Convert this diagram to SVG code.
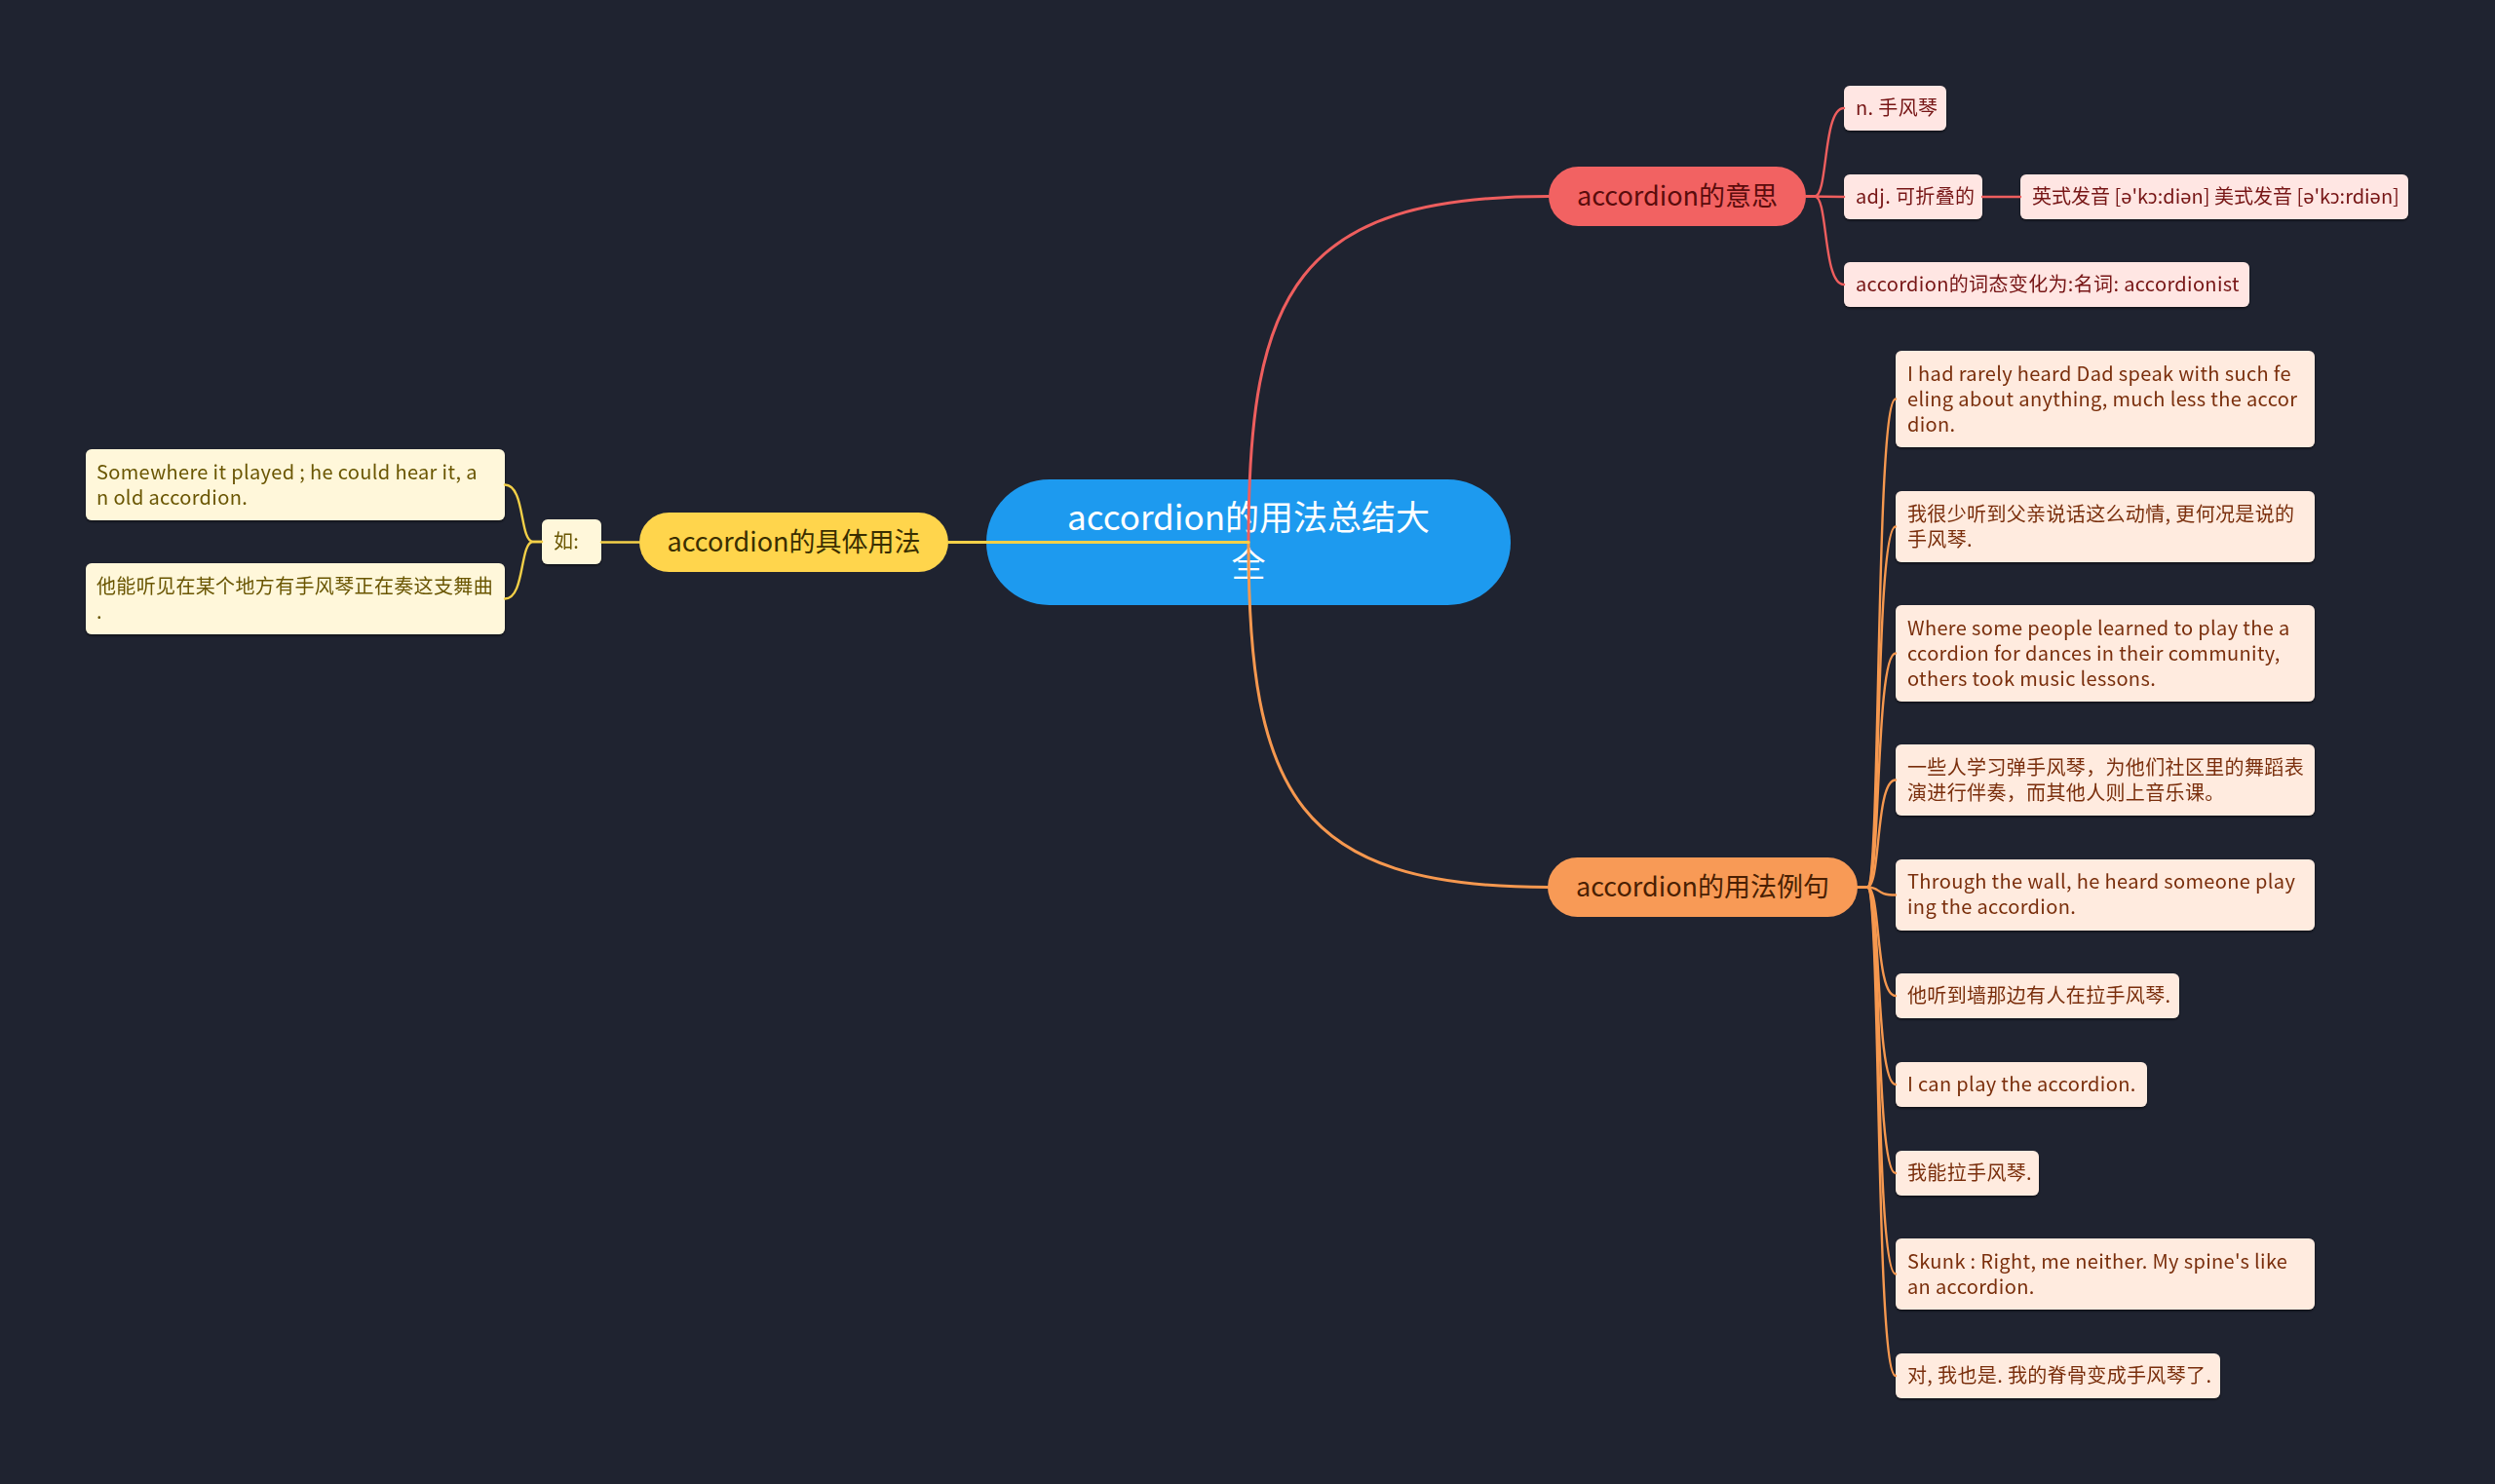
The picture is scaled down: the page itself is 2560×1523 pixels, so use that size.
<svg xmlns="http://www.w3.org/2000/svg" width="2560" height="1523" viewBox="0 0 2560 1523">
<defs>
<filter id="sh" x="-5%" y="-10%" width="110%" height="130%">
<feDropShadow dx="0" dy="1.5" stdDeviation="0.8" flood-color="#000" flood-opacity="0.55"/>
</filter>
<style>
text{font-family:"Noto Sans CJK SC","Noto Sans",sans-serif;}
.root{fill:#1D9AEF;}
.roott{fill:#fff;font-size:35px;text-anchor:middle;}
.l1t{font-size:27px;text-anchor:middle;}
.leaf{filter:url(#sh);}
.lt{font-size:20px;letter-spacing:0.35px;}
.nols{letter-spacing:0;}
.red{fill:#F26262;}
.redt{fill:#5A0C0C;}
.redleaf{fill:#FFE6E3;}
.redlt{fill:#761414;}
.yel{fill:#FFD54C;}
.yelt{fill:#3A2E00;}
.yelleaf{fill:#FFF7DA;}
.yellt{fill:#6A5604;}
.org{fill:#F89A56;}
.orgt{fill:#4A1F02;}
.orgleaf{fill:#FFEBDF;}
.orglt{fill:#7A2F0C;}
.c{fill:none;stroke-linecap:round;}
.cr{stroke:#EE5E5E;}
.cy{stroke:#F3D048;}
.co{stroke:#F6984F;}
.main{stroke-width:3;}
.sub{stroke-width:2.4;}
</style>
</defs>
<rect x="0" y="0" width="2560" height="1523" fill="#1F2330"/>

<g id="root">
<rect class="root" x="1012" y="492" width="538" height="129" rx="64.5"/>
<text class="roott" x="1281" y="544">accordion的用法总结大</text>
<text class="roott" x="1281" y="592">全</text>
</g>

<g id="meaning">
<rect class="red" x="1589" y="171" width="264" height="61" rx="30.5"/>
<text class="l1t redt" x="1721" y="211">accordion的意思</text>
</g>
<g id="m1" class="leaf">
<rect class="redleaf" x="1892" y="88" width="105" height="46" rx="6"/>
<text class="lt redlt" x="1904" y="118">n. 手风琴</text>
</g>
<g id="m2" class="leaf">
<rect class="redleaf" x="1892" y="179" width="142" height="46" rx="6"/>
<text class="lt redlt" x="1904" y="209">adj. 可折叠的</text>
</g>
<g id="m2a" class="leaf">
<rect class="redleaf" x="2073" y="179" width="398" height="46" rx="6"/>
<text class="lt redlt nols" x="2085" y="209">英式发音 [ə'kɔ:diən] 美式发音 [ə'kɔ:rdiən]</text>
</g>
<g id="m3" class="leaf">
<rect class="redleaf" x="1892" y="269" width="416" height="46" rx="6"/>
<text class="lt redlt" x="1904" y="299">accordion的词态变化为:名词: accordionist</text>
</g>

<g id="usage">
<rect class="yel" x="656" y="526" width="317" height="61" rx="30.5"/>
<text class="l1t yelt" x="814.5" y="566">accordion的具体用法</text>
</g>
<g id="ru" class="leaf">
<rect class="yelleaf" x="556" y="533" width="61" height="46" rx="6"/>
<text class="lt yellt" x="568" y="563">如:</text>
</g>
<g id="u1" class="leaf">
<rect class="yelleaf" x="88" y="461" width="430" height="73" rx="6"/>
<text class="lt yellt" x="99" y="491.5">Somewhere it played ; he could hear it, a</text>
<text class="lt yellt" x="99" y="517.5">n old accordion.</text>
</g>
<g id="u2" class="leaf">
<rect class="yelleaf" x="88" y="578" width="430" height="73" rx="6"/>
<text class="lt yellt" x="99" y="608.5">他能听见在某个地方有手风琴正在奏这支舞曲</text>
<text class="lt yellt" x="99" y="634.5">.</text>
</g>

<g id="examples">
<rect class="org" x="1588" y="880" width="318" height="61" rx="30.5"/>
<text class="l1t orgt" x="1747" y="920">accordion的用法例句</text>
</g>
<g id="e1" class="leaf">
<rect class="orgleaf" x="1945" y="360" width="430" height="99" rx="6"/>
<text class="lt orglt" x="1957" y="390.5">I had rarely heard Dad speak with such fe</text>
<text class="lt orglt" x="1957" y="416.5">eling about anything, much less the accor</text>
<text class="lt orglt" x="1957" y="442.5">dion.</text>
</g>
<g id="e2" class="leaf">
<rect class="orgleaf" x="1945" y="504" width="430" height="73" rx="6"/>
<text class="lt orglt" x="1957" y="534.5">我很少听到父亲说话这么动情, 更何况是说的</text>
<text class="lt orglt" x="1957" y="560.5">手风琴.</text>
</g>
<g id="e3" class="leaf">
<rect class="orgleaf" x="1945" y="621" width="430" height="99" rx="6"/>
<text class="lt orglt" x="1957" y="651.5">Where some people learned to play the a</text>
<text class="lt orglt" x="1957" y="677.5">ccordion for dances in their community,</text>
<text class="lt orglt" x="1957" y="703.5">others took music lessons.</text>
</g>
<g id="e4" class="leaf">
<rect class="orgleaf" x="1945" y="764" width="430" height="73" rx="6"/>
<text class="lt orglt" x="1957" y="794.5">一些人学习弹手风琴，为他们社区里的舞蹈表</text>
<text class="lt orglt" x="1957" y="820.5">演进行伴奏，而其他人则上音乐课。</text>
</g>
<g id="e5" class="leaf">
<rect class="orgleaf" x="1945" y="882" width="430" height="73" rx="6"/>
<text class="lt orglt" x="1957" y="911.5">Through the wall, he heard someone play</text>
<text class="lt orglt" x="1957" y="937.5">ing the accordion.</text>
</g>
<g id="e6" class="leaf">
<rect class="orgleaf" x="1945" y="999" width="291" height="46" rx="6"/>
<text class="lt orglt" x="1957" y="1029">他听到墙那边有人在拉手风琴.</text>
</g>
<g id="e7" class="leaf">
<rect class="orgleaf" x="1945" y="1090" width="258" height="46" rx="6"/>
<text class="lt orglt" x="1957" y="1120">I can play the accordion.</text>
</g>
<g id="e8" class="leaf">
<rect class="orgleaf" x="1945" y="1181" width="147" height="46" rx="6"/>
<text class="lt orglt" x="1957" y="1211">我能拉手风琴.</text>
</g>
<g id="e9" class="leaf">
<rect class="orgleaf" x="1945" y="1271" width="430" height="73" rx="6"/>
<text class="lt orglt" x="1957" y="1301.5">Skunk : Right, me neither. My spine's like</text>
<text class="lt orglt" x="1957" y="1327.5">an accordion.</text>
</g>
<g id="e10" class="leaf">
<rect class="orgleaf" x="1945" y="1389" width="333" height="46" rx="6"/>
<text class="lt orglt" x="1957" y="1419">对, 我也是. 我的脊骨变成手风琴了.</text>
</g>

<g id="connectors">
<path class="c cr main" d="M1281 556 C1281 300 1330 201.5 1589 201.5"/>
<path class="c co main" d="M1281 556 C1281 812 1330 910.5 1588 910.5"/>
<path class="c cy main" d="M1281 556.5 L973 556.5"/>

<path class="c cr sub" d="M1853 201.5 L1862 201.5 C1876 201.5 1870 111 1892 111"/>
<path class="c cr sub" d="M1853 201.5 L1892 202"/>
<path class="c cr sub" d="M1853 201.5 L1862 201.5 C1876 201.5 1870 292 1892 292"/>
<path class="c cr sub" d="M2034 202 L2073 202"/>

<path class="c cy sub" d="M656 556.5 L617 556.5"/>
<path class="c cy sub" d="M556 556 L547 556 C533 556 539 497.5 518 497.5"/>
<path class="c cy sub" d="M556 556 L547 556 C533 556 539 614.5 518 614.5"/>

<path class="c co sub" d="M1906 910.5 L1916 910.5 C1930 910.5 1924 409.5 1945 409.5"/>
<path class="c co sub" d="M1906 910.5 L1916 910.5 C1930 910.5 1924 540.5 1945 540.5"/>
<path class="c co sub" d="M1906 910.5 L1916 910.5 C1930 910.5 1924 670.5 1945 670.5"/>
<path class="c co sub" d="M1906 910.5 L1916 910.5 C1930 910.5 1924 800.5 1945 800.5"/>
<path class="c co sub" d="M1906 910.5 L1916 910.5 C1930 910.5 1924 918.5 1945 918.5"/>
<path class="c co sub" d="M1906 910.5 L1916 910.5 C1930 910.5 1924 1022 1945 1022"/>
<path class="c co sub" d="M1906 910.5 L1916 910.5 C1930 910.5 1924 1113 1945 1113"/>
<path class="c co sub" d="M1906 910.5 L1916 910.5 C1930 910.5 1924 1204 1945 1204"/>
<path class="c co sub" d="M1906 910.5 L1916 910.5 C1930 910.5 1924 1307.5 1945 1307.5"/>
<path class="c co sub" d="M1906 910.5 L1916 910.5 C1930 910.5 1924 1412 1945 1412"/>
</g>
</svg>
